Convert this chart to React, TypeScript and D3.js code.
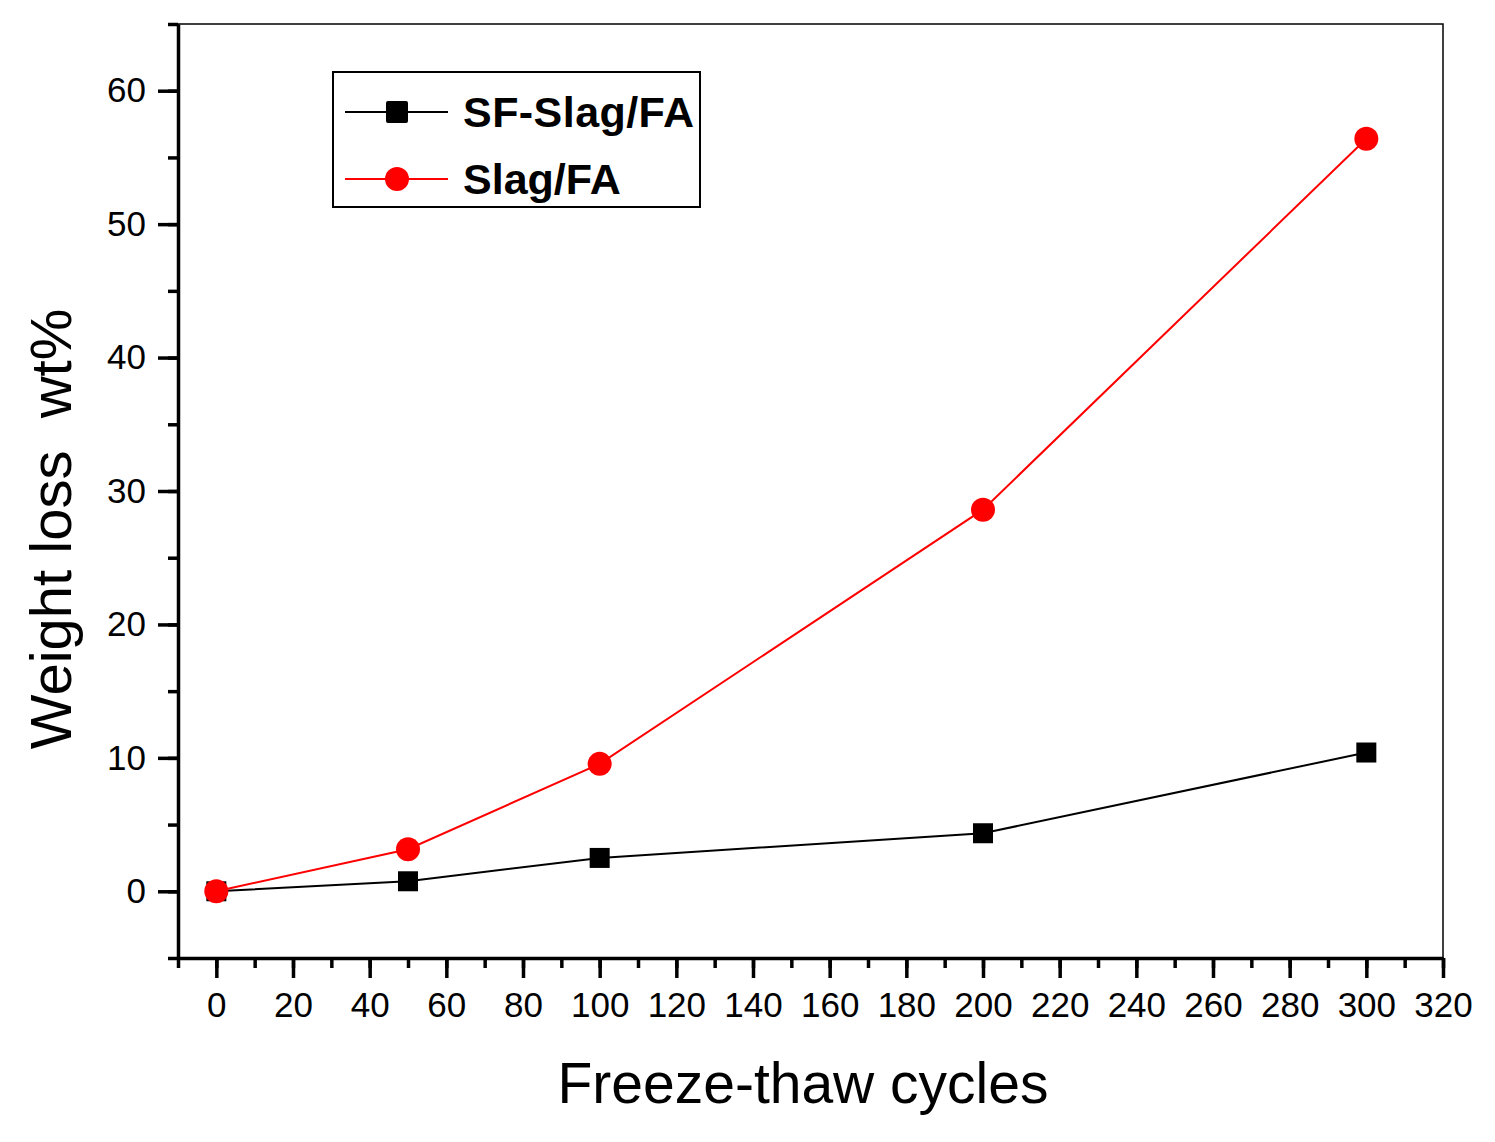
import { useRef, useEffect } from 'react'
import * as d3 from 'd3'

const CYCLES = [0, 50, 100, 200, 300]
const SF_SLAG_FA = [0, 0.75, 2.5, 4.35, 10.4]
const SLAG_FA = [0, 3.15, 9.55, 28.6, 56.4]
const X_TICKS = d3.range(0, 321, 20)
const X_MINOR = d3.range(-10, 321, 10)
const Y_TICKS = [0, 10, 20, 30, 40, 50, 60]
const Y_MINOR = d3.range(-5, 66, 5)

const FONT = '"Liberation Sans", Arial, sans-serif'

export default function App() {
  const svgRef = useRef<SVGSVGElement | null>(null)

  useEffect(() => {
    if (!svgRef.current) return
    const svg = d3.select(svgRef.current)
    svg.selectAll('*').remove()

    const left = 178, right = 1443, top = 24, bottom = 958
    const x = d3.scaleLinear().domain([-10, 320]).range([left, right])
    const y = d3.scaleLinear().domain([-5, 65]).range([bottom, top])

    // frame (thin top/right)
    svg.append('rect')
      .attr('x', left).attr('y', top).attr('width', right - left).attr('height', bottom - top)
      .attr('fill', 'none').attr('stroke', '#000').attr('stroke-width', 1.5)

    // minor ticks
    const gx = svg.append('g').attr('transform', `translate(0,${bottom})`)
    gx.call(d3.axisBottom(x).tickValues(X_MINOR).tickSize(10).tickFormat(() => '').tickSizeOuter(0))
      .call(g => g.select('.domain').remove())
      .selectAll('line').attr('stroke-width', 3.5)
    const gxMaj = svg.append('g').attr('transform', `translate(0,${bottom})`)
    gxMaj.call(d3.axisBottom(x).tickValues(X_TICKS).tickSize(20).tickPadding(14).tickSizeOuter(0))
    gxMaj.select('.domain').attr('stroke-width', 3.5)
    gxMaj.selectAll('line').attr('stroke-width', 3.5)
    gxMaj.selectAll('text').attr('font-size', 35).attr('font-family', FONT).attr('fill', '#000')

    const gy = svg.append('g').attr('transform', `translate(${left},0)`)
    gy.call(d3.axisLeft(y).tickValues(Y_MINOR).tickSize(10).tickFormat(() => '').tickSizeOuter(0))
      .call(g => g.select('.domain').remove())
      .selectAll('line').attr('stroke-width', 3.5)
    const gyMaj = svg.append('g').attr('transform', `translate(${left},0)`)
    gyMaj.call(d3.axisLeft(y).tickValues(Y_TICKS).tickSize(20).tickPadding(12).tickSizeOuter(0))
    gyMaj.select('.domain').attr('stroke-width', 3.5)
    gyMaj.selectAll('line').attr('stroke-width', 3.5)
    gyMaj.selectAll('text').attr('font-size', 35).attr('font-family', FONT).attr('fill', '#000')

    const line = d3.line<number>().x((_, i) => x(CYCLES[i])).y(d => y(d))

    // black series first, the red circle at 0 covers the square
    svg.append('path').datum(SF_SLAG_FA).attr('d', line)
      .attr('fill', 'none').attr('stroke', '#000').attr('stroke-width', 2)
    svg.selectAll('.sq').data(SF_SLAG_FA).enter().append('rect')
      .attr('x', (_, i) => x(CYCLES[i]) - 10).attr('y', d => y(d) - 10)
      .attr('width', 20).attr('height', 20).attr('fill', '#000')

    svg.append('path').datum(SLAG_FA).attr('d', line)
      .attr('fill', 'none').attr('stroke', '#ff0000').attr('stroke-width', 2)
    svg.selectAll('.ci').data(SLAG_FA).enter().append('circle')
      .attr('cx', (_, i) => x(CYCLES[i])).attr('cy', d => y(d))
      .attr('r', 12).attr('fill', '#ff0000')

    // legend
    const lg = svg.append('g')
    lg.append('rect').attr('x', 333).attr('y', 72).attr('width', 367).attr('height', 135)
      .attr('fill', '#fff').attr('stroke', '#000').attr('stroke-width', 2)
    const items = [
      { name: 'SF-Slag/FA', color: '#000', shape: 'square', cy: 112 },
      { name: 'Slag/FA', color: '#ff0000', shape: 'circle', cy: 179 },
    ]
    items.forEach(it => {
      lg.append('line').attr('x1', 345).attr('x2', 448).attr('y1', it.cy).attr('y2', it.cy)
        .attr('stroke', it.color).attr('stroke-width', 2)
      if (it.shape === 'square') {
        lg.append('rect').attr('x', 386).attr('y', it.cy - 11).attr('width', 22).attr('height', 22)
          .attr('rx', 2).attr('fill', it.color)
      } else {
        lg.append('circle').attr('cx', 397).attr('cy', it.cy).attr('r', 12).attr('fill', it.color)
      }
      lg.append('text').attr('x', 463).attr('y', it.cy + 15)
        .attr('font-size', 43).attr('font-weight', 'bold').attr('font-family', FONT)
        .attr('textLength', it.shape === 'square' ? 231 : null)
        .text(it.name)
    })

    // axis titles
    svg.append('text')
      .attr('x', 803).attr('y', 1103).attr('text-anchor', 'middle')
      .attr('font-size', 57).attr('font-family', FONT).text('Freeze-thaw cycles')
    svg.append('text')
      .attr('transform', 'rotate(-90)')
      .attr('x', -529).attr('y', 71).attr('text-anchor', 'middle')
      .attr('font-size', 58).attr('font-family', FONT)
      .style('white-space', 'pre').text('Weight loss  wt%')
  }, [])

  return (
    <svg ref={svgRef} width={1495} height={1142}
      style={{ position: 'absolute', left: 0, top: 0, background: '#fff' }} />
  )
}
